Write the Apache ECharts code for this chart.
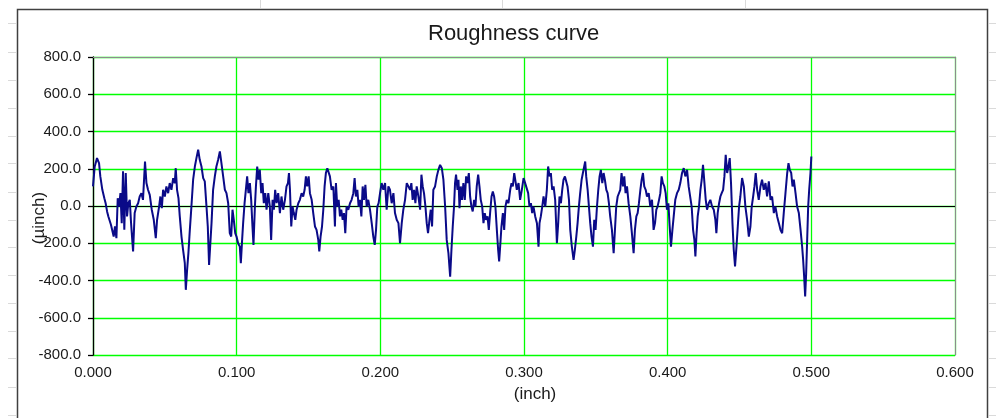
<!DOCTYPE html>
<html>
<head>
<meta charset="utf-8">
<script src="https://cdn.jsdelivr.net/npm/echarts@6/dist/echarts.min.js"></script>
<style>
html,body{margin:0;padding:0;background:#fff;}
#chart{width:996px;height:418px;}
</style>
</head>
<body>
<div id="chart"></div>
<script>
// Position along the profile (inch)
const xInch = [
0.0000,0.0012,0.0028,0.0042,0.0051,0.0065,0.0079,0.0088,0.0098,0.0107,0.0116,0.0125,0.0135,0.0144,0.0153,0.0163,0.0172,0.0181,0.0191,0.0200,
0.0209,0.0218,0.0228,0.0237,0.0246,0.0256,0.0265,0.0279,0.0290,0.0302,0.0314,0.0325,0.0337,0.0348,0.0362,0.0372,0.0383,0.0395,0.0409,0.0423,
0.0437,0.0446,0.0460,0.0469,0.0479,0.0488,0.0500,0.0511,0.0523,0.0534,0.0546,0.0558,0.0569,0.0576,0.0585,0.0595,0.0604,0.0616,0.0627,0.0639,
0.0646,0.0655,0.0664,0.0674,0.0685,0.0697,0.0709,0.0720,0.0732,0.0743,0.0755,0.0767,0.0778,0.0790,0.0799,0.0808,
0.0825,0.0836,0.0848,0.0859,0.0871,0.0883,0.0894,0.0906,0.0918,0.0929,0.0941,0.0952,0.0962,0.0971,0.0980,0.0990,0.0999,0.1010,0.1022,0.1029,
0.1038,0.1045,0.1055,0.1064,0.1073,0.1082,0.1092,0.1101,0.1110,0.1117,0.1127,0.1134,0.1143,0.1152,0.1161,0.1171,0.1180,0.1189,0.1199,0.1208,
0.1220,0.1231,0.1240,0.1250,0.1259,0.1268,0.1278,0.1289,0.1301,0.1312,0.1324,0.1336,0.1347,0.1357,0.1364,0.1371,0.1380,0.1389,0.1398,0.1408,
0.1417,0.1429,0.1440,0.1452,0.1463,0.1473,0.1482,0.1491,0.1501,0.1510,0.1522,0.1533,0.1545,0.1556,0.1568,0.1575,0.1584,0.1594,0.1603,0.1612,
0.1621,0.1631,0.1640,
0.1649,0.1661,0.1673,0.1684,0.1691,0.1700,0.1710,0.1719,0.1728,0.1738,0.1747,0.1756,0.1765,0.1777,0.1789,0.1800,0.1812,0.1821,0.1830,0.1840,
0.1849,0.1858,0.1868,0.1877,0.1886,0.1896,0.1905,0.1916,0.1928,0.1940,0.1951,0.1961,0.1970,0.1979,0.1988,0.1998,0.2009,0.2021,0.2033,0.2044,
0.2056,0.2067,0.2079,0.2091,0.2102,0.2114,0.2126,0.2137,0.2149,0.2160,0.2172,0.2184,0.2195,0.2207,0.2216,0.2225,0.2235,0.2244,0.2253,0.2265,
0.2277,0.2286,0.2295,0.2304,0.2314,0.2323,0.2332,0.2342,0.2351,0.2360,0.2369,0.2381,0.2393,0.2404,0.2416,0.2428,0.2439,0.2451,0.2462,0.2474,
0.2486,0.2495,0.2504,0.2513,0.2520,0.2527,0.2537,0.2544,0.2551,0.2560,0.2569,0.2578,0.2588,0.2597,0.2606,0.2616,0.2625,0.2634,0.2643,0.2653,
0.2662,0.2671,0.2681,0.2690,0.2699,0.2709,0.2718,0.2727,0.2736,0.2746,0.2755,0.2764,0.2774,0.2783,0.2792,0.2801,0.2811,0.2820,0.2827,0.2834,
0.2843,0.2853,0.2862,0.2871,0.2880,0.2892,0.2904,0.2913,0.2922,0.2932,0.2939,0.2950,0.2962,0.2973,0.2985,0.2997,0.3008,0.3020,0.3029,0.3038,
0.3048,0.3057,0.3066,0.3078,0.3090,0.3101,0.3108,0.3117,0.3127,0.3136,0.3148,0.3159,0.3168,0.3178,0.3187,0.3196,0.3206,0.3217,0.3229,0.3238,
0.3247,0.3257,0.3266,0.3275,0.3285,0.3294,0.3303,0.3313,
0.3322,0.3333,0.3345,0.3354,0.3364,0.3373,0.3382,0.3391,0.3401,0.3410,0.3419,0.3426,0.3433,0.3443,0.3452,0.3461,0.3470,0.3480,0.3489,0.3498,
0.3508,0.3517,0.3526,0.3535,0.3545,0.3554,0.3563,0.3573,0.3582,0.3591,0.3600,0.3612,0.3624,0.3633,0.3642,0.3652,0.3661,0.3670,0.3679,0.3689,
0.3698,0.3707,0.3717,0.3728,0.3740,0.3751,0.3763,0.3772,0.3782,0.3791,0.3800,0.3810,0.3819,0.3828,0.3837,0.3847,0.3856,0.3868,0.3879,0.3891,
0.3902,0.3912,0.3921,0.3930,0.3940,0.3949,0.3958,0.3967,0.3977,0.3986,0.3995,0.4005,0.4014,0.4023,0.4033,0.4042,0.4053,0.4065,0.4077,0.4088,
0.4100,0.4112,0.4123,0.4135,0.4146,
0.4167,0.4177,0.4186,0.4193,0.4200,0.4209,0.4218,0.4228,0.4237,0.4246,0.4256,0.4265,0.4274,0.4286,0.4297,0.4309,0.4321,0.4332,0.4339,0.4348,
0.4358,0.4367,0.4376,0.4386,0.4395,0.4404,0.4414,0.4423,0.4432,0.4441,0.4451,0.4460,0.4469,0.4479,0.4488,0.4497,0.4506,0.4518,0.4530,0.4541,
0.4553,0.4565,0.4576,0.4585,0.4595,0.4604,0.4613,0.4623,0.4634,0.4646,0.4657,0.4669,0.4681,0.4692,0.4704,0.4716,0.4727,0.4739,0.4750,0.4762,
0.4774,0.4785,0.4797,0.4808,0.4820,0.4832,0.4841,0.4850,0.4860,0.4869,0.4878,0.4890,0.4901,0.4913,0.4925,0.4936,0.4943,0.4950,0.4957,0.4964,
0.4971,0.4978,0.4985,0.4994,0.5000
];
// Roughness height (µinch)
const roughness = [
105,212,257,230,159,87,42,15,-29,-56,-47,-101,-92,-164,-110,-173,42,-3,69,-92,
186,-128,177,-56,15,33,-92,-244,-38,-3,15,51,69,33,239,123,87,60,-20,-74,
-173,-74,-3,51,-12,87,51,105,69,123,87,150,123,203,87,42,-56,-164,-235,-307,
-450,-343,-253,-128,-3,141,212,257,302,248,212,150,132,-3,-110,-316,
-92,87,159,212,248,293,230,159,87,69,15,-146,-164,-20,-74,-146,-164,-200,-218,-307,
-182,-92,15,87,159,69,123,33,-110,-209,-3,105,212,141,194,69,123,15,69,-20,
69,-3,-182,33,-20,87,15,69,-38,51,-20,33,105,123,177,87,-110,-3,-38,-74,
-20,15,33,69,51,87,159,105,159,69,33,-38,-110,-128,-182,-244,-164,-110,-20,105,
177,203,194,
159,87,105,-110,123,-3,33,-56,-20,-74,-38,-146,-3,-20,15,33,69,150,51,87,
-3,33,-56,105,33,114,-3,33,-20,-92,-164,-209,-128,-3,15,69,123,87,123,-20,
105,87,15,69,-38,-74,-92,-200,-92,-20,33,123,132,87,123,33,87,15,105,51,
-20,168,105,69,-3,-92,-146,-74,-20,-110,87,105,159,194,221,203,141,-3,-182,-253,
-379,-235,-110,-3,123,168,87,141,-12,105,33,123,33,159,123,177,51,-3,-29,33,
-3,105,168,105,33,-3,-92,-38,-74,-56,-128,-38,51,78,51,-3,-128,-235,-298,-218,
-110,-38,-128,-3,33,15,87,123,105,177,186,87,123,33,87,150,123,132,69,-3,
15,-38,-3,-56,-92,-218,-92,-56,-3,51,-3,87,212,159,177,87,105,33,-200,-92,
51,15,87,141,159,168,105,33,
-128,-218,-289,-235,-164,-92,-3,69,141,177,212,239,159,87,-3,-92,-164,-218,-74,-128,
-3,87,159,194,123,177,141,87,69,15,-56,-128,-253,-128,-3,51,42,87,177,105,
159,69,105,15,-56,-146,-253,-128,-56,-38,15,87,141,177,105,87,51,69,-3,33,
-128,-92,-20,-3,33,69,159,123,105,69,-20,15,-110,-218,-128,-56,33,69,87,123,
177,203,159,194,105,
-3,-128,-182,-271,-164,-56,-3,87,141,221,123,33,-20,15,33,-3,-20,-74,-146,-38,
15,51,69,87,159,275,177,212,257,123,-92,-235,-325,-218,-110,-3,51,150,105,-3,
-74,-164,-110,-3,51,105,177,87,33,105,141,87,123,51,132,33,51,-38,-3,-56,
-92,-128,-146,-38,69,177,230,194,177,105,141,69,-3,-38,-128,-218,-289,-379,-486,-361,
-182,-3,87,177,266
];
const xTicks = [0, 0.1, 0.2, 0.3, 0.4, 0.5, 0.6];
const yTicks = [-800, -600, -400, -200, 0, 200, 400, 600, 800];

const FONT = "'Liberation Sans', Arial, sans-serif";
const chart = echarts.init(document.getElementById('chart'), null, {renderer: 'canvas'});

const rowY = [23,52,80,108,136,163,192,220,247,275,303,331,358,387,415];
const deco = [];
rowY.forEach(y => {
  deco.push({type:'line', shape:{x1:8,y1:y+0.5,x2:16,y2:y+0.5}, style:{stroke:'#dadada',lineWidth:1}, silent:true});
  deco.push({type:'line', shape:{x1:989,y1:y+0.5,x2:996,y2:y+0.5}, style:{stroke:'#dadada',lineWidth:1}, silent:true});
});
[260, 502, 745].forEach(x => {
  deco.push({type:'line', shape:{x1:x+0.5,y1:0,x2:x+0.5,y2:8}, style:{stroke:'#dadada',lineWidth:1}, silent:true});
});
deco.push({type:'rect', shape:{x:17.5,y:9.5,width:970,height:430}, style:{fill:null, stroke:'#404040', lineWidth:1.5}, silent:true});

chart.setOption({
  animation: false,
  backgroundColor: '#ffffff',
  graphic: deco,
  title: {
    text: 'Roughness curve',
    left: 423,
    top: 18,
    textStyle: {fontFamily: FONT, fontSize: 22, fontWeight: 'normal', color: '#1a1a1a'}
  },
  grid: {left: 93, right: 41, top: 57, bottom: 63, containLabel: false},
  xAxis: [{
    type: 'value',
    min: xTicks[0], max: xTicks[xTicks.length - 1], interval: 0.1,
    position: 'bottom',
    name: '(inch)', nameLocation: 'middle', nameGap: 31,
    nameMoveOverlap: false,
    nameTextStyle: {fontFamily: FONT, fontSize: 17, color: '#1a1a1a', padding: [0, 0, 0, 22]},
    axisLine: {onZero: false, lineStyle: {color: '#8c8c8c', width: 1}},
    axisTick: {show: false},
    axisLabel: {fontFamily: FONT, fontSize: 15, color: '#1a1a1a', margin: 10,
      formatter: v => v.toFixed(3)},
    splitLine: {show: true, lineStyle: {color: '#00ff00', width: 1.3}}
  }, {
    type: 'value',
    min: xTicks[0], max: xTicks[xTicks.length - 1], interval: 0.1,
    position: 'top',
    z: 3,
    axisLine: {onZero: false, lineStyle: {color: '#8c8c8c', width: 1}},
    axisTick: {show: false},
    axisLabel: {show: false},
    splitLine: {show: false}
  }],
  yAxis: [{
    type: 'value',
    min: yTicks[0], max: yTicks[yTicks.length - 1], interval: 200,
    position: 'left',
    name: '(µinch)', nameLocation: 'middle', nameGap: 45,
    nameMoveOverlap: false,
    nameTextStyle: {fontFamily: FONT, fontSize: 17, color: '#1a1a1a', padding: [0, 24, 0, 0]},
    z: 3,
    axisLine: {show: true, onZero: false, lineStyle: {color: '#000000', width: 1.3}},
    axisTick: {show: true, length: 5, lineStyle: {color: '#000000', width: 1.3}},
    axisLabel: {fontFamily: FONT, fontSize: 15, color: '#1a1a1a', margin: 12,
      formatter: v => v.toFixed(1)},
    splitLine: {show: true, lineStyle: {color: '#00ff00', width: 1.3}}
  }, {
    type: 'value',
    min: yTicks[0], max: yTicks[yTicks.length - 1], interval: 200,
    position: 'right',
    z: 3,
    axisLine: {show: true, onZero: false, lineStyle: {color: '#8c8c8c', width: 1}},
    axisTick: {show: false},
    axisLabel: {show: false},
    splitLine: {show: false}
  }],
  series: [{
    type: 'line',
    xAxisIndex: 0,
    yAxisIndex: 0,
    data: xInch.map((x, i) => [x, roughness[i]]),
    showSymbol: false,
    symbol: 'none',
    lineStyle: {color: '#0a0a88', width: 2},
    z: 4,
    markLine: {
      silent: true,
      symbol: 'none',
      label: {show: false},
      lineStyle: {color: '#000000', width: 1.2, type: 'solid'},
      data: [{yAxis: 0}],
      z: 3
    }
  }]
});
</script>
</body>
</html>
